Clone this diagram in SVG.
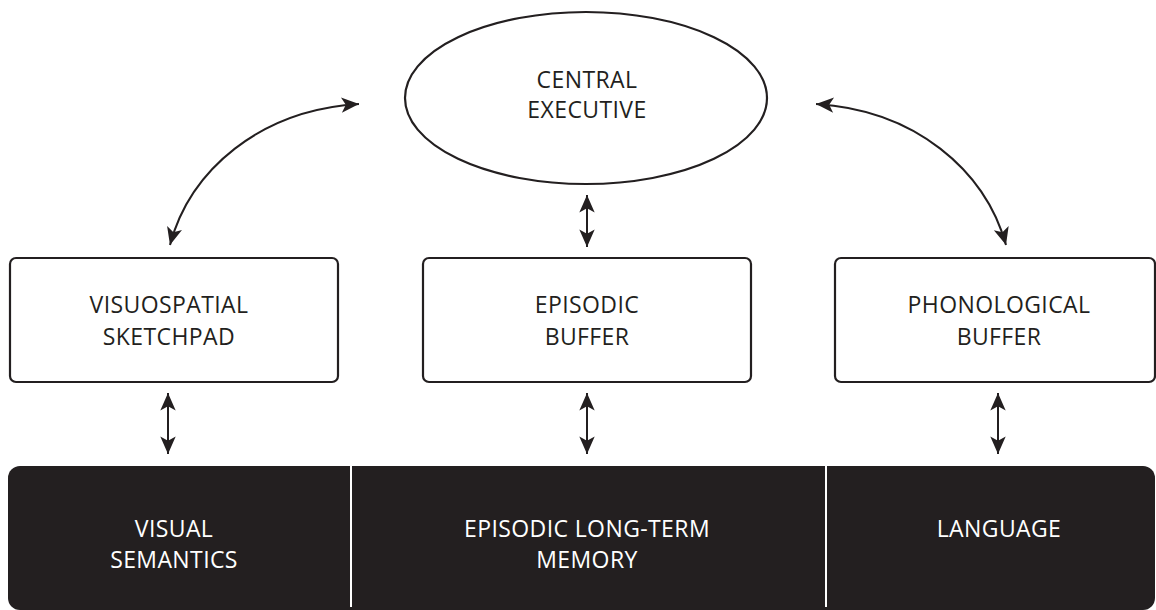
<svg xmlns="http://www.w3.org/2000/svg" width="1156" height="610" viewBox="0 0 1156 610">
<style>
.box{fill:#fff;stroke:#231f20;stroke-width:2.2}
.dark{fill:#231f20}
.t{font-family:"Open Sans","Noto Sans",sans-serif;font-size:23px;letter-spacing:0.4px;fill:#231f20;text-anchor:middle}
.w{fill:#fff}
.c{fill:none;stroke:#231f20;stroke-width:2}
.div{stroke:#fff;stroke-width:2}
</style>
<defs>
<marker id="ah" markerUnits="userSpaceOnUse" markerWidth="22" markerHeight="22" viewBox="-18 -9 20 18" refX="0" refY="0" orient="auto-start-reverse">
<path d="M0,0 L-16,-7 L-12,0 L-16,7 Z" fill="#231f20"/>
</marker>
</defs>
<rect width="1156" height="610" fill="#fff"/>
<g id="central-executive">
<ellipse class="box" cx="586" cy="98" rx="181" ry="86"/>
<text class="t" x="587" y="88">CENTRAL</text>
<text class="t" x="587" y="118">EXECUTIVE</text>
</g>
<g id="visuospatial-sketchpad">
<rect class="box" x="10" y="258" width="328" height="124" rx="6"/>
<text class="t" x="169" y="313">VISUOSPATIAL</text>
<text class="t" x="169" y="345">SKETCHPAD</text>
</g>
<g id="episodic-buffer">
<rect class="box" x="423" y="258" width="328" height="124" rx="6"/>
<text class="t" x="587" y="313">EPISODIC</text>
<text class="t" x="587" y="345">BUFFER</text>
</g>
<g id="phonological-buffer">
<rect class="box" x="835" y="258" width="320" height="124" rx="6"/>
<text class="t" x="999" y="313">PHONOLOGICAL</text>
<text class="t" x="999" y="345">BUFFER</text>
</g>
<g id="long-term">
<rect class="dark" x="8" y="466" width="1147" height="144" rx="12"/>
<line class="div" x1="351" y1="466" x2="351" y2="607"/>
<line class="div" x1="826" y1="466" x2="826" y2="607"/>
</g>
<g id="visual-semantics">
<text class="t w" x="174" y="537">VISUAL</text>
<text class="t w" x="174" y="568">SEMANTICS</text>
</g>
<g id="episodic-ltm">
<text class="t w" x="587" y="537">EPISODIC LONG-TERM</text>
<text class="t w" x="587" y="568">MEMORY</text>
</g>
<g id="language">
<text class="t w" x="999" y="537">LANGUAGE</text>
</g>
<g id="connectors">
<path class="c" d="M170,245 C190,170 260,110 359,104" marker-start="url(#ah)" marker-end="url(#ah)"/>
<path class="c" d="M816,104 C915,110 985,170 1006,245" marker-start="url(#ah)" marker-end="url(#ah)"/>
<line class="c" x1="587" y1="195" x2="587" y2="247" marker-start="url(#ah)" marker-end="url(#ah)"/>
<line class="c" x1="168" y1="393" x2="168" y2="454" marker-start="url(#ah)" marker-end="url(#ah)"/>
<line class="c" x1="587" y1="393" x2="587" y2="454" marker-start="url(#ah)" marker-end="url(#ah)"/>
<line class="c" x1="998" y1="393" x2="998" y2="454" marker-start="url(#ah)" marker-end="url(#ah)"/>
</g>
</svg>
